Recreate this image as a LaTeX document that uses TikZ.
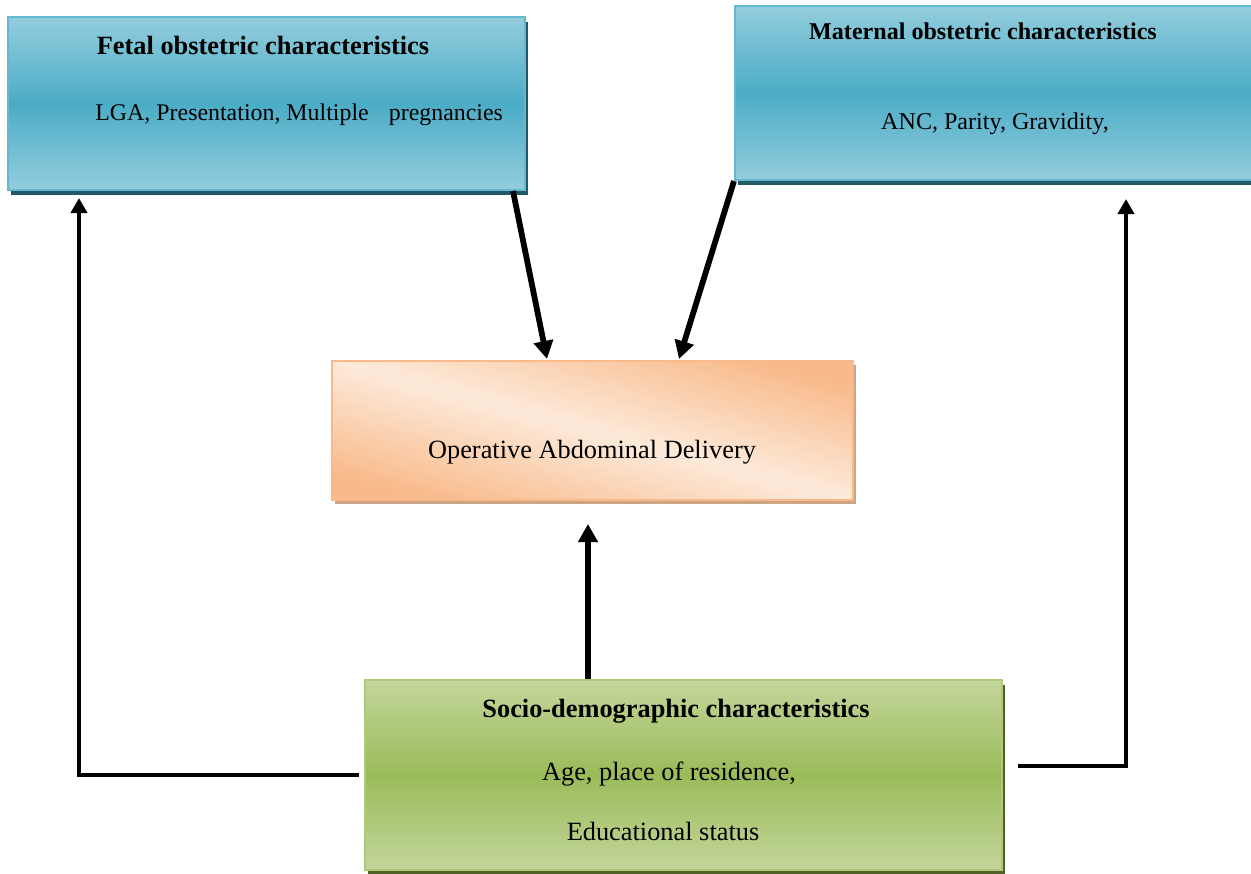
\documentclass[tikz,border=0pt]{standalone}
\usepackage{fontspec}
\setmainfont{Liberation Serif}
\usetikzlibrary{arrows.meta,shadows}

\definecolor{blueL}{HTML}{93CDDD}
\definecolor{blueD}{HTML}{4BACC6}
\definecolor{blueS}{HTML}{215968}
\definecolor{orangeL}{HTML}{FDEADA}
\definecolor{orangeD}{HTML}{F8BA8A}
\definecolor{orangeS}{HTML}{CDA583}
\definecolor{greenL}{HTML}{C3D69B}
\definecolor{greenD}{HTML}{9BBB59}
\definecolor{greenS}{HTML}{4F6228}

\tikzset{
  box/.style={rectangle, line width=1.2pt, inner sep=0pt},
  bluebox/.style={box, draw=blueD!85!white, top color=blueL, bottom color=blueL, middle color=blueD,
    general shadow={fill=blueS, shadow xshift=0.06cm, shadow yshift=-0.1cm}},
  orangebox/.style={box, draw=orangeD, top color=orangeD, bottom color=orangeD, middle color=orangeL,
    shading angle=-15, general shadow={fill=orangeS, shadow xshift=0.06cm, shadow yshift=-0.08cm}},
  greenbox/.style={box, draw=greenD!80!white, top color=greenL, bottom color=greenL, middle color=greenD,
    general shadow={fill=greenS, shadow xshift=0.06cm, shadow yshift=-0.1cm}},
  title/.style={anchor=base, inner sep=0pt, font=\fontsize{15}{18}\selectfont\bfseries},
  body/.style={anchor=base, inner sep=0pt, font=\fontsize{15}{18}\selectfont},
  bigarrow/.style={line width=3.3pt, -{Triangle[length=0.36cm,width=0.38cm]}},
  elbow/.style={line width=2.2pt, -{Triangle[length=0.3cm,width=0.32cm]}},
}

\begin{document}
\begin{tikzpicture}[x=0.02cm, y=-0.02cm]
    \useasboundingbox (0,0) rectangle (1251,874);

    % Draw the four boxes
    \node[bluebox, minimum width=10.34cm, minimum height=3.46cm] (fetal) at (266.5,103.5) {};
    \node[bluebox, minimum width=10.38cm, minimum height=3.48cm] (maternal) at (994.5,93) {};
    \node[orangebox, minimum width=10.42cm, minimum height=2.78cm] (operative) at (592.5,430.5) {};
    \node[greenbox, minimum width=12.74cm, minimum height=3.8cm] (socio) at (683.5,775) {};

    % Texts in the boxes
    \node[title] (fetal-t) at (263,55) {Fetal obstetric characteristics};
    \node[body, anchor=base west, font=\fontsize{13.6}{16}\selectfont] (fetal-d) at (95,121) {LGA, Presentation, Multiple\hspace{0.84em}pregnancies};
    \node[title, font=\fontsize{13.7}{16}\selectfont\bfseries] (maternal-t) at (983,40) {Maternal obstetric characteristics};
    \node[body, font=\fontsize{13.7}{16}\selectfont] (maternal-d) at (995,130) {ANC, Parity, Gravidity,};
    \node[body] (operative-t) at (592,459) {Operative Abdominal Delivery};
    \node[title] (socio-t) at (676,717) {Socio-demographic characteristics};
    \node[body] (socio-d1) at (669,780) {Age, place of residence,};
    \node[body] (socio-d2) at (663,840) {Educational status};

    % Draw the arrows into the outcome
    \draw[bigarrow] ([xshift=-0.26cm]fetal.south east) -- ([shift={(216,-1)}]operative.north west);
    \draw[bigarrow] (maternal.south west) -- ([shift={(348,-1)}]operative.north west);
    \draw[bigarrow] ([xshift=-1.91cm]socio.north) -- ([shift={(-4.5,23)}]operative.south);

    % Draw the side connectors
    \draw[elbow] ([xshift=-0.1cm]socio.west) -| ([shift={(72,7)}]fetal.south west);
    \draw[elbow] ([shift={(15,-9)}]socio.east) -| ([shift={(392,18)}]maternal.south west);

\end{tikzpicture}
\end{document}
